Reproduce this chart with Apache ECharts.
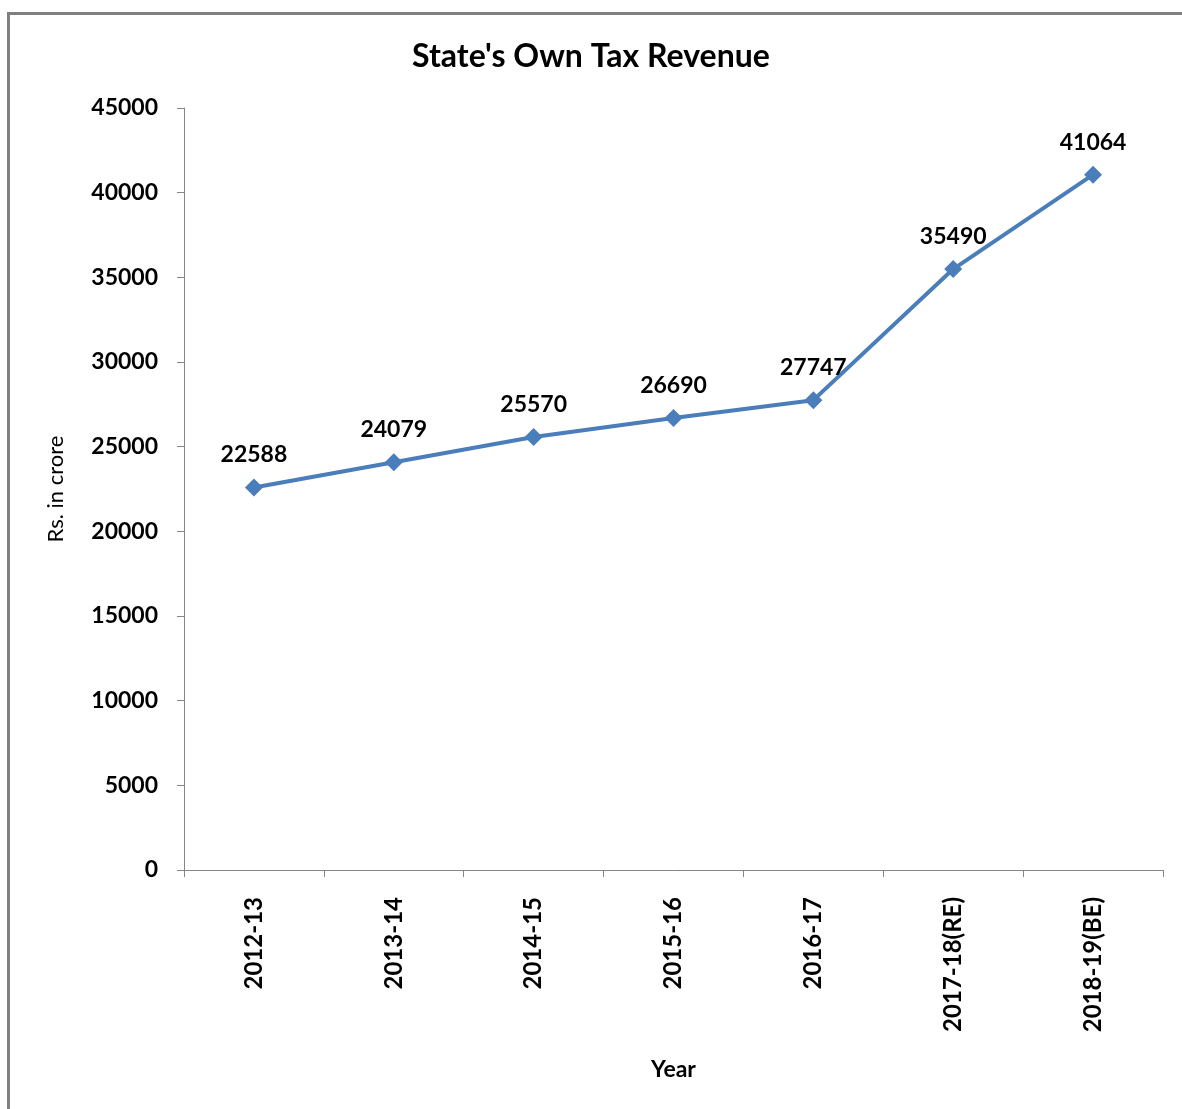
<!DOCTYPE html>
<html>
<head>
<meta charset="utf-8">
<script src="https://cdn.jsdelivr.net/npm/echarts@6/dist/echarts.min.js"></script>
<style>html,body{margin:0;padding:0;background:#fff;}#c{width:1182px;height:1109px;}</style>
</head>
<body>
<div id="c"></div>
<script>
const categories = ['2012-13','2013-14','2014-15','2015-16','2016-17','2017-18(RE)','2018-19(BE)'];
const revenue = [22588, 24079, 25570, 26690, 27747, 35490, 41064];
const yTicks = {min: 0, max: 45000, interval: 5000};

const chart = echarts.init(document.getElementById('c'));
const FONT = 'Lato';
chart.setOption({
  backgroundColor: '#fff',
  animation: false,
  graphic: [{
    type: 'rect', shape: {x: 8.5, y: 13.5, width: 1400, height: 1400},
    style: {fill: 'none', stroke: '#808080', lineWidth: 3}, silent: true
  }],
  title: {
    text: "State's Own Tax Revenue", left: 'center', top: 36,
    textStyle: {fontFamily: FONT, fontSize: 32, fontWeight: 'bold', color: '#000'}
  },
  grid: {left: 184, right: 19, top: 108, bottom: 239, containLabel: false},
  xAxis: {
    type: 'category', data: categories, boundaryGap: true,
    name: 'Year', nameLocation: 'middle', nameGap: 188,
    nameTextStyle: {fontFamily: FONT, fontSize: 23, fontWeight: 'bold', color: '#000'},
    axisLine: {lineStyle: {color: '#868686', width: 1}},
    axisTick: {show: true, length: 7, alignWithLabel: false, lineStyle: {color: '#868686'}},
    axisLabel: {rotate: 90, margin: 27, fontFamily: FONT, fontSize: 24, fontWeight: 'bold', color: '#000'}
  },
  yAxis: {
    type: 'value', min: yTicks.min, max: yTicks.max, interval: yTicks.interval,
    name: 'Rs. in crore', nameLocation: 'middle', nameGap: 117, nameRotate: 90,
    nameTextStyle: {fontFamily: FONT, fontSize: 22, color: '#000'},
    axisLine: {show: true, lineStyle: {color: '#868686', width: 1}},
    axisTick: {show: true, length: 7, inside: false, lineStyle: {color: '#868686'}},
    splitLine: {show: false},
    axisLabel: {margin: 26, fontFamily: FONT, fontSize: 23, fontWeight: 'bold', color: '#000',
      formatter: v => String(v)}
  },
  series: [{
    type: 'line', data: revenue,
    symbol: 'diamond', symbolSize: 18,
    lineStyle: {color: '#4A7EBB', width: 4},
    itemStyle: {color: '#4A7EBB'},
    label: {show: true, position: 'top', distance: 12, fontFamily: FONT, fontSize: 23, fontWeight: 'bold', color: '#000'}
  }]
});
</script>
</body>
</html>
